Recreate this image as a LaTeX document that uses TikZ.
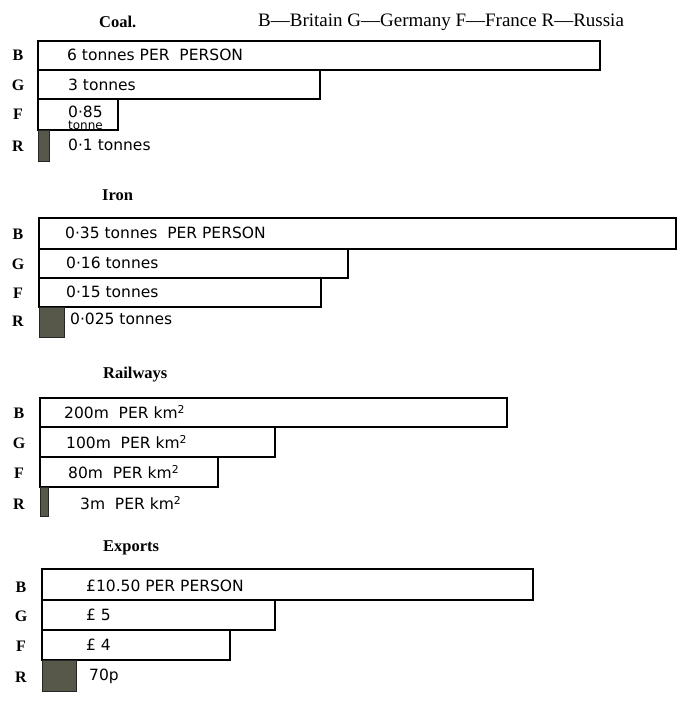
\documentclass[tikz,border=0pt]{standalone}
\usepackage{fontspec}
\setmainfont{Liberation Serif}
\newfontfamily\hand{DejaVu Sans}
\usetikzlibrary{positioning}
\definecolor{lowfill}{RGB}{88,88,74}
\begin{document}
\begin{tikzpicture}[x=1pt,y=-1pt,
  bar/.style={draw, line width=1.1pt},
  lowbar/.style={draw=black!85, fill=lowfill, line width=0.8pt},
  title/.style={anchor=west, inner sep=0, font=\fontsize{16.5}{16}\selectfont\bfseries},
  key/.style={anchor=west, inner sep=0, font=\fontsize{19}{18}\selectfont},
  row/.style={inner sep=0, font=\fontsize{16}{16}\selectfont\bfseries},
  val/.style={anchor=west, inner sep=0, font=\hand\fontsize{15.5}{14}\selectfont}]
\useasboundingbox (0,0) rectangle (682,706);

%Coal
\node[title] (coal) at (99,22)  {Coal.};
\node[key]   (key)  at (258,22) {B---Britain G---Germany F---France R---Russia};
\draw[bar] (38,41) rectangle (600,70);
\draw[bar] (38,70) rectangle (320,99);
\draw[bar] (38,99) rectangle (118,130);
\draw[lowbar] (38,130) rectangle (49,161);
\node[row] (coalB) at (18,55)  {B};
\node[row] (coalG) at (18,85)  {G};
\node[row] (coalF) at (18,114) {F};
\node[row] (coalR) at (18,146) {R};
\node[val] (coalvB) at (67,55)  {6 tonnes PER\ \ PERSON};
\node[val] (coalvG) at (68,85)  {3 tonnes};
\node[val] (coalvF) at (68,112) {0·85};
\node[val, font=\hand\fontsize{12}{11}\selectfont] (coalvFt) at (68,125) {tonne};
\node[val] (coalvR) at (68,145) {0·1 tonnes};

%Iron
\node[title] (iron) at (102,195) {Iron};
\draw[bar] (39,218) rectangle (676,249);
\draw[bar] (39,249) rectangle (348,278);
\draw[bar] (39,278) rectangle (321,307);
\draw[lowbar] (39,307) rectangle (64,337);
\node[row] (ironB) at (18,234) {B};
\node[row] (ironG) at (18,264) {G};
\node[row] (ironF) at (18,293) {F};
\node[row] (ironR) at (18,321) {R};
\node[val] (ironvB) at (65,233) {0·35 tonnes\ \ PER PERSON};
\node[val] (ironvG) at (66,263) {0·16 tonnes};
\node[val] (ironvF) at (66,292) {0·15 tonnes};
\node[val] (ironvR) at (70,319) {0·025 tonnes};

%Railways
\node[title] (rail) at (103,375) {Railways};
\draw[bar] (40,398) rectangle (507,427);
\draw[bar] (40,427) rectangle (275,457);
\draw[bar] (40,457) rectangle (218,487);
\draw[lowbar] (40,487) rectangle (48,516);
\node[row] (railB) at (19,413) {B};
\node[row] (railG) at (19,443) {G};
\node[row] (railF) at (19,473) {F};
\node[row] (railR) at (19,504) {R};
\node[val] (railvB) at (64,412) {200m\ \ PER km\textsuperscript{2}};
\node[val] (railvG) at (66,442) {100m\ \ PER km\textsuperscript{2}};
\node[val] (railvF) at (68,472) {80m\ \ PER km\textsuperscript{2}};
\node[val] (railvR) at (80,503) {3m\ \ PER km\textsuperscript{2}};

%Exports
\node[title] (exp) at (103,548) {Exports};
\draw[bar] (42,569) rectangle (533,600);
\draw[bar] (42,600) rectangle (275,630);
\draw[bar] (42,630) rectangle (230,660);
\draw[lowbar] (42,660) rectangle (76,691);
\node[row] (expB) at (21,587) {B};
\node[row] (expG) at (21,616) {G};
\node[row] (expF) at (21,646) {F};
\node[row] (expR) at (21,677) {R};
\node[val] (expvB) at (86,586) {£10.50 PER PERSON};
\node[val] (expvG) at (86,615) {£ 5};
\node[val] (expvF) at (86,645) {£ 4};
\node[val] (expvR) at (89,676) {70p};

\end{tikzpicture}
\end{document}
